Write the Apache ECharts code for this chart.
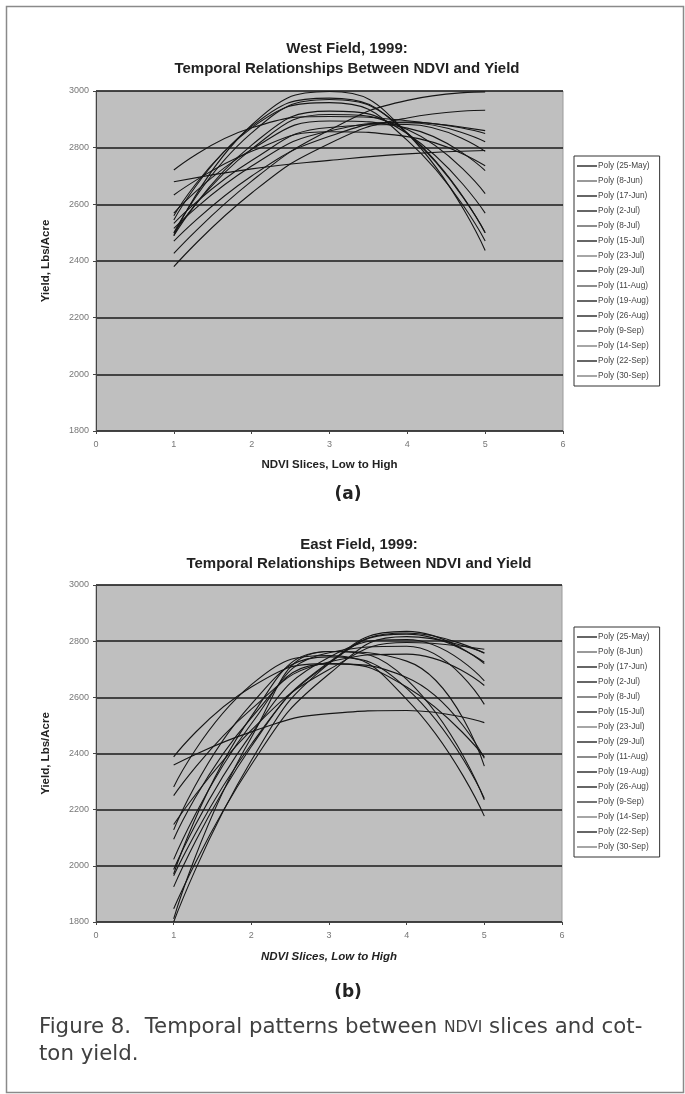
<!DOCTYPE html>
<html>
<head>
<meta charset="utf-8">
<script src="https://cdn.jsdelivr.net/npm/echarts@6/dist/echarts.min.js"></script>
<style>
  html, body { margin: 0; padding: 0; background: #fff; }
  #main { width: 685px; height: 1094px; }
</style>
</head>
<body>
<div id="main"></div>
<script>
// NDVI slice positions (x) shared by every trendline
var xSlices = [1, 2, 3, 4, 5];
var polyDates = ['25-May', '8-Jun', '17-Jun', '2-Jul', '8-Jul', '15-Jul', '23-Jul', '29-Jul',
    '11-Aug', '19-Aug', '26-Aug', '9-Sep', '14-Sep', '22-Sep', '30-Sep'];
var yTicks = [1800, 2000, 2200, 2400, 2600, 2800, 3000];

// West field, yield (lbs/acre) read at x = 1..5 for each date
var westYield = [
    [2490, 2880, 2998, 2850, 2437],
    [2545, 2875, 2975, 2850, 2500],
    [2560, 2870, 2959, 2826, 2471],
    [2489, 2809, 2929, 2849, 2569],
    [2680, 2725, 2755, 2778, 2790],
    [2427, 2682, 2862, 2967, 2997],
    [2380, 2640, 2815, 2905, 2932],
    [2470, 2700, 2840, 2890, 2850],
    [2515, 2735, 2859, 2888, 2821],
    [2533, 2755, 2871, 2882, 2787],
    [2633, 2787, 2856, 2839, 2736],
    [2721, 2870, 2910, 2895, 2860],
    [2569, 2794, 2894, 2869, 2719],
    [2498, 2795, 2917, 2864, 2638],
    [2500, 2852, 2970, 2852, 2500]
];

// East field
var eastYield = [
    [2359, 2477, 2542, 2553, 2510],
    [1965, 2433, 2721, 2829, 2757],
    [1925, 2425, 2725, 2825, 2725],
    [1847, 2360, 2683, 2816, 2759],
    [1987, 2470, 2743, 2806, 2659],
    [2023, 2506, 2759, 2782, 2575],
    [2281, 2645, 2749, 2593, 2177],
    [2128, 2576, 2744, 2632, 2240],
    [2095, 2527, 2719, 2671, 2383],
    [1811, 2457, 2763, 2729, 2355],
    [1971, 2532, 2763, 2664, 2235],
    [1800, 2375, 2720, 2835, 2720],
    [2388, 2637, 2720, 2637, 2388],
    [2250, 2558, 2726, 2754, 2642],
    [2147, 2483, 2699, 2795, 2771]
];

var legendColors = ['#333', '#777', '#333', '#333', '#666', '#333', '#888', '#333',
    '#666', '#333', '#333', '#444', '#888', '#333', '#888'];

var myChart = echarts.init(document.getElementById('main'));

function makeSeries(data, gridIdx) {
    return data.map(function (vals, i) {
        return {
            name: 'Poly (' + polyDates[i] + ')',
            type: 'line',
            xAxisIndex: gridIdx,
            yAxisIndex: gridIdx,
            data: vals.map(function (v, j) { return [xSlices[j], v]; }),
            smooth: true,
            showSymbol: false,
            silent: true,
            color: legendColors[i],
            lineStyle: { color: '#161616', width: 1.1 },
            clip: true
        };
    });
}

function xAxisCfg(gridIdx, italic, gap) {
    return {
        gridIndex: gridIdx, type: 'value', min: 0, max: 6, interval: 1,
        name: 'NDVI Slices, Low to High', nameLocation: 'middle', nameGap: gap,
        nameTextStyle: { fontFamily: 'Liberation Sans', fontWeight: 'bold', fontStyle: italic ? 'italic' : 'normal', fontSize: 11.5, color: '#222' },
        axisLine: { show: true, lineStyle: { color: '#444', width: 1 } },
        axisTick: { show: true, length: 3, lineStyle: { color: '#444' } },
        axisLabel: { fontFamily: 'Liberation Sans', fontSize: 9, color: '#777', margin: 9 },
        splitLine: { show: false }
    };
}

function yAxisCfg(gridIdx) {
    return {
        gridIndex: gridIdx, type: 'value', min: yTicks[0], max: yTicks[yTicks.length - 1], interval: 200,
        name: 'Yield, Lbs/Acre', nameLocation: 'middle', nameGap: 44,
        nameTextStyle: { fontFamily: 'Liberation Sans', fontWeight: 'bold', fontSize: 11.5, color: '#222' },
        axisLine: { show: true, lineStyle: { color: '#444', width: 1 } },
        axisTick: { show: true, length: 3, lineStyle: { color: '#444' } },
        axisLabel: { fontFamily: 'Liberation Sans', fontSize: 9, color: '#777', margin: 7,
            formatter: function (v) { return String(v); } },
        splitLine: { show: true, lineStyle: { color: '#1a1a1a', width: 1.5 } }
    };
}

function legendCfg(top) {
    return {
        orient: 'vertical', left: 574, top: top,
        data: polyDates.map(function (d) { return 'Poly (' + d + ')'; }),
        backgroundColor: '#fff', borderColor: '#333', borderWidth: 1,
        padding: [6, 10, 6, 3], itemGap: 7, itemWidth: 20, itemHeight: 8,
        icon: 'path://M0,0 L40,0 L40,3 L0,3 Z',
        selectedMode: false,
        textStyle: { fontFamily: 'Liberation Sans', fontSize: 8.3, color: '#444', padding: [0, 0, 0, -4], lineHeight: 8 }
    };
}

function titleStyle(lh) {
    return { fontFamily: 'Liberation Sans', fontWeight: 'bold', fontSize: 15, color: '#222', lineHeight: lh };
}

option = {
    backgroundColor: '#fff',
    animation: false,
    title: [
        { text: 'West Field, 1999:\nTemporal Relationships Between NDVI and Yield', left: 347, top: 39, textAlign: 'center', textStyle: titleStyle(20), padding: 0 },
        { text: 'East Field, 1999:\nTemporal Relationships Between NDVI and Yield', left: 359, top: 535, textAlign: 'center', textStyle: titleStyle(19), padding: 0 }
    ],
    legend: [legendCfg(156), legendCfg(627)],
    grid: [
        { left: 96, top: 91, width: 467, height: 340, show: true, backgroundColor: '#bfbfbf', borderColor: '#9a9a9a', borderWidth: 1 },
        { left: 96, top: 585, width: 466, height: 337, show: true, backgroundColor: '#bfbfbf', borderColor: '#9a9a9a', borderWidth: 1 }
    ],
    xAxis: [xAxisCfg(0, false, 28), xAxisCfg(1, true, 29)],
    yAxis: [yAxisCfg(0), yAxisCfg(1)],
    series: makeSeries(westYield, 0).concat(makeSeries(eastYield, 1)),
    graphic: [
        { type: 'rect', shape: { x: 6.5, y: 6.5, width: 677, height: 1086 }, style: { fill: 'none', stroke: '#8a8a8a', lineWidth: 1.5 }, silent: true },
        { type: 'text', x: 348, y: 495, style: { text: '(a)', font: 'bold 17px "DejaVu Sans"', fill: '#222', align: 'center', verticalAlign: 'middle' } },
        { type: 'text', x: 348, y: 993, style: { text: '(b)', font: 'bold 17px "DejaVu Sans"', fill: '#222', align: 'center', verticalAlign: 'middle' } },
        { type: 'text', x: 39, y: 1014, style: {
            text: '{a|Figure 8.  Temporal patterns between }{s|NDVI}{a| slices and cot-}\n{a|ton yield.}',
            rich: {
                a: { fontFamily: 'DejaVu Sans', fontSize: 21.3, fill: '#404040', lineHeight: 27 },
                s: { fontFamily: 'DejaVu Sans', fontSize: 15.5, fill: '#404040', lineHeight: 27 }
            }
        } }
    ]
};
myChart.setOption(option);
</script>
</body>
</html>
